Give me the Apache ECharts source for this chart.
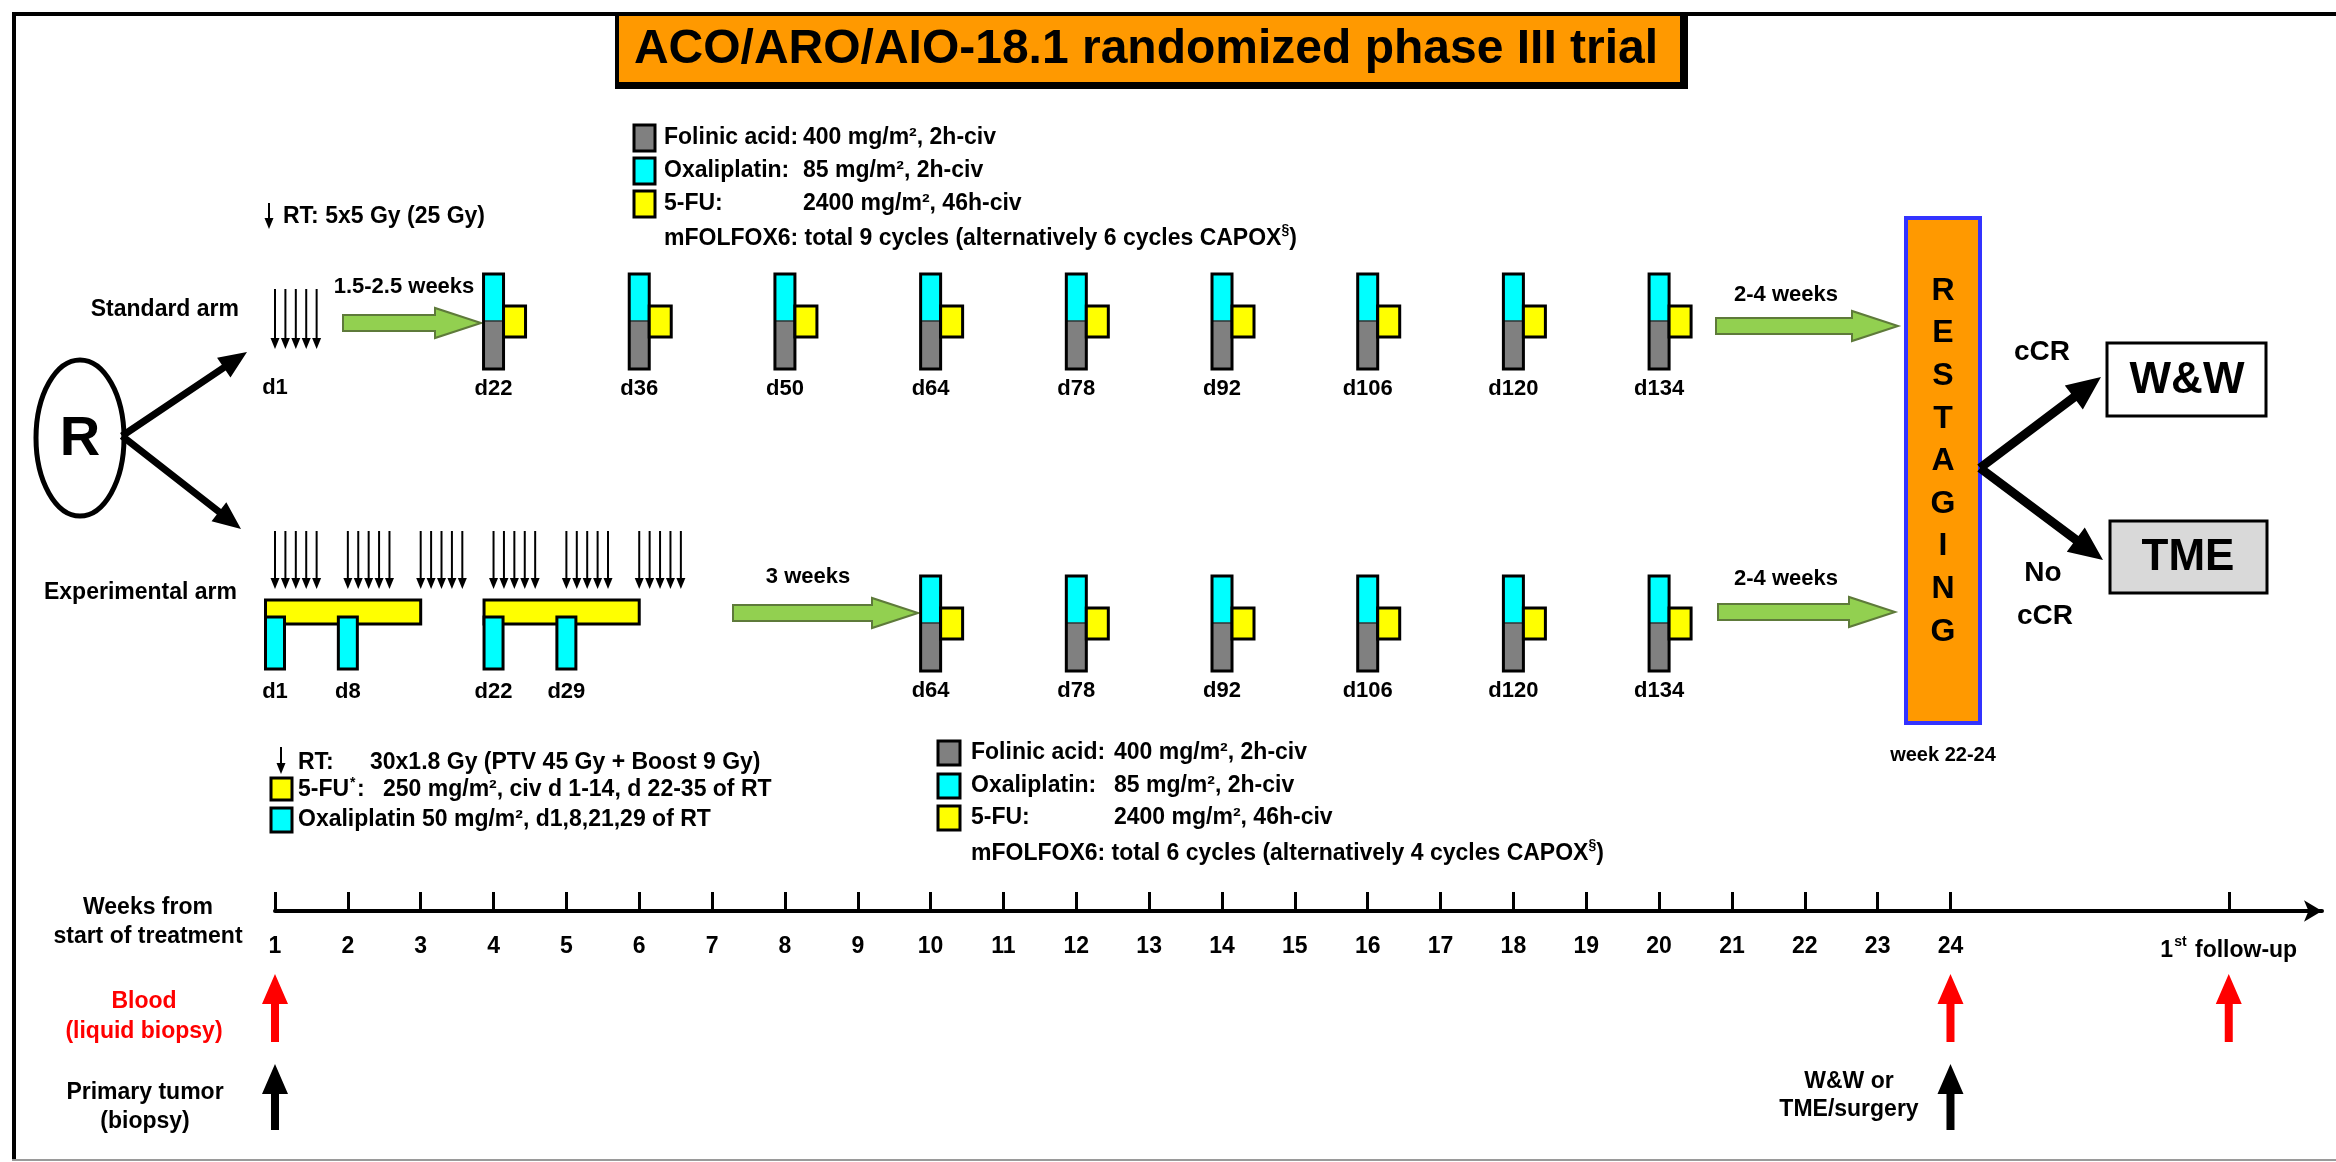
<!DOCTYPE html>
<html><head><meta charset="utf-8">
<script src="https://cdn.jsdelivr.net/npm/echarts@6/dist/echarts.min.js"></script>
<style>html,body{margin:0;padding:0;background:#fff}#c{width:2336px;height:1162px}</style>
</head><body><div id="c"></div>
<script>
// ---------- data ----------
const weekTicks = [1,2,3,4,5,6,7,8,9,10,11,12,13,14,15,16,17,18,19,20,21,22,23,24];
const followUpWeek = 27.82;
const standardRtDays = [1,2,3,4,5];
const standardCycleDays = [22,36,50,64,78,92,106,120,134];
const experimentalRtDays = [1,2,3,4,5,8,9,10,11,12,15,16,17,18,19,22,23,24,25,26,29,30,31,32,33,36,37,38,39,40];
const experimentalOxaliDays = [1,8,22,29];
const experimental5fuStartDays = [1,22];
const experimental5fuEndDays = [14,35];
const experimentalCycleDays = [64,78,92,106,120,134];
const bloodDrawWeeks = [1,24,followUpWeek];
const tissueWeeks = [1,24];

// ---------- styles ----------
const FF = '"Liberation Sans", Arial, Helvetica, sans-serif';
const f = (s, w) => (w || 'bold') + ' ' + s + 'px ' + FF;
const CYAN = '#00FFFF', YELLOW = '#FFFF00', GREY = '#808080', ORANGE = '#FF9900',
      GREEN = '#92D050', GREEN_EDGE = '#5E7A3A', RED = '#FF0000';

const dayToWeek = d => 1 + (d - 1) / 7;

function T(text, x, y, size, opt) {
  opt = opt || {};
  return {type: 'text', z: 10, style: {text, x, y, font: f(size, opt.weight), fill: opt.color || '#000',
    align: opt.align || 'left', verticalAlign: 'middle'}};
}
// rich text with a superscript part: text uses {n|..}{s|..}
function TS(text, x, y, size) {
  return {type: 'text', z: 10, style: {text, x, y, font: f(size), fill: '#000', align: 'left', verticalAlign: 'middle',
    rich: {
      n: {font: f(size), fill: '#000', lineHeight: size + 4, verticalAlign: 'bottom'},
      s: {font: f(Math.round(size * 0.6)), fill: '#000', lineHeight: size + 4, verticalAlign: 'top'}
    }}};
}
function R(x, y, w, h, fill, stroke, lw) {
  return {type: 'rect', shape: {x, y, width: w, height: h},
    style: {fill: fill, stroke: stroke || null, lineWidth: lw || 0}};
}
function arrowPts(x1, y1, x2, y2, sw, hl, hw) {
  const dx = x2 - x1, dy = y2 - y1, L = Math.hypot(dx, dy);
  const ux = dx / L, uy = dy / L, px = -uy, py = ux;
  const bx = x2 - ux * hl, by = y2 - uy * hl;
  return [
    [x1 + px * sw / 2, y1 + py * sw / 2],
    [bx + px * sw / 2, by + py * sw / 2],
    [bx + px * hw / 2, by + py * hw / 2],
    [x2, y2],
    [bx - px * hw / 2, by - py * hw / 2],
    [bx - px * sw / 2, by - py * sw / 2],
    [x1 - px * sw / 2, y1 - py * sw / 2]
  ];
}
function arrow(x1, y1, x2, y2, sw, hl, hw, fill) {
  return {type: 'polygon', shape: {points: arrowPts(x1, y1, x2, y2, sw, hl, hw)}, style: {fill: fill || '#000'}};
}
function greenArrow(x1, x2, yc) {
  const bh = 8, hh = 15, hl = 46;
  return {type: 'polygon', shape: {points: [[x1, yc - bh], [x2 - hl, yc - bh], [x2 - hl, yc - hh], [x2, yc],
    [x2 - hl, yc + hh], [x2 - hl, yc + bh], [x1, yc + bh]]},
    style: {fill: GREEN, stroke: GREEN_EDGE, lineWidth: 2}};
}
function thinArrow(x, top, bottom) {
  return [
    {type: 'line', shape: {x1: x, y1: top, x2: x, y2: bottom - 8}, style: {stroke: '#000', lineWidth: 2}},
    {type: 'polygon', shape: {points: [[x - 4.5, bottom - 11], [x + 4.5, bottom - 11], [x, bottom]]}, style: {fill: '#000'}}
  ];
}

// ---------- renderers ----------
function rtRenderer(top, bottom, firstLabelY) {
  return function (params, api) {
    const x = api.coord([api.value(0), 0])[0];
    const children = thinArrow(x, top, bottom);
    if (firstLabelY && params.dataIndex === 0) {
      children.push({type: 'text', style: {text: 'd' + api.value(1), x: x, y: firstLabelY, font: f(22), fill: '#000', align: 'center', verticalAlign: 'middle'}});
    }
    return {type: 'group', children};
  };
}
function cycleRenderer(top) {
  return function (params, api) {
    const x = api.coord([api.value(0), 0])[0];
    const w = 20, cH = 47, gH = 48;
    return {type: 'group', children: [
      R(x - w / 2, top, w, cH, CYAN),
      R(x - w / 2, top + cH, w, gH, GREY),
      {type: 'line', shape: {x1: x - w / 2, y1: top + cH, x2: x + w / 2, y2: top + cH}, style: {stroke: '#333', lineWidth: 1.5}},
      {type: 'rect', shape: {x: x - w / 2, y: top, width: w, height: cH + gH}, style: {fill: 'none', stroke: '#000', lineWidth: 3}},
      R(x + w / 2, top + 32, 22, 31, YELLOW, '#000', 3),
      {type: 'text', style: {text: 'd' + api.value(1), x: x, y: top + 115, font: f(22), fill: '#000', align: 'center', verticalAlign: 'middle'}}
    ]};
  };
}
function fuRenderer(params, api) {
  const x1 = api.coord([api.value(0), 0])[0];
  const x2 = api.coord([api.value(1), 0])[0];
  return R(x1 - 9.5, 600, x2 - x1 + 9.5, 24, YELLOW, '#000', 3);
}
function oxaliRenderer(params, api) {
  const x = api.coord([api.value(0), 0])[0];
  return {type: 'group', children: [
    R(x - 9.5, 617, 19, 52, CYAN, '#000', 3),
    {type: 'text', style: {text: 'd' + api.value(1), x: x, y: 692, font: f(22), fill: '#000', align: 'center', verticalAlign: 'middle'}}
  ]};
}
function upArrowRenderer(top, bottom, color) {
  return function (params, api) {
    const x = api.coord([api.value(0), 0])[0];
    return arrow(x, bottom, x, top, 8, 30, 26, color);
  };
}

// ---------- static layout ----------
const restLetters = 'RESTAGING'.split('');
const elements = [
  // frame
  R(12, 12, 2324, 4, '#000'),
  R(12, 12, 4, 1148, '#000'),
  R(12, 1159, 2324, 2, '#9a9a9a'),
  // title
  R(615, 14, 1073, 75, '#000'),
  R(619, 16, 1061, 66, ORANGE),
  T('ACO/ARO/AIO-18.1 randomized phase III trial', 1146, 50, 48, {align: 'center'}),
  // legend 1 (standard arm)
  R(634, 125, 21, 26, GREY, '#000', 3),
  R(634, 158, 21, 26, CYAN, '#000', 3),
  R(634, 191, 21, 26, YELLOW, '#000', 3),
  T('Folinic acid:', 664, 138, 23), T('400 mg/m², 2h-civ', 803, 138, 23),
  T('Oxaliplatin:', 664, 171, 23), T('85 mg/m², 2h-civ', 803, 171, 23),
  T('5-FU:', 664, 204, 23), T('2400 mg/m², 46h-civ', 803, 204, 23),
  TS('{n|mFOLFOX6: total 9 cycles (alternatively 6 cycles CAPOX}{s|§}{n|)}', 664, 237, 23),
  ...thinArrow(269, 203, 229),
  T('RT: 5x5 Gy (25 Gy)', 283, 217, 23),
  // arm labels
  T('Standard arm', 239, 310, 23, {align: 'right'}),
  T('Experimental arm', 237, 593, 23, {align: 'right'}),
  // R randomisation
  {type: 'ellipse', shape: {cx: 80, cy: 438, rx: 44, ry: 78}, style: {fill: '#fff', stroke: '#000', lineWidth: 5}},
  T('R', 80, 440, 56, {align: 'center'}),
  arrow(122, 436, 247, 352, 7, 28, 24),
  arrow(122, 436, 241, 529, 7, 28, 24),
  // green arrows
  greenArrow(343, 481, 323), T('1.5-2.5 weeks', 404, 287, 22, {align: 'center'}),
  greenArrow(1716, 1898, 326), T('2-4 weeks', 1786, 295, 22, {align: 'center'}),
  greenArrow(733, 918, 613), T('3 weeks', 808, 577, 22, {align: 'center'}),
  greenArrow(1718, 1895, 612), T('2-4 weeks', 1786, 579, 22, {align: 'center'}),
  // legend 2 (experimental arm)
  R(938, 741, 22, 24, GREY, '#000', 3),
  R(938, 774, 22, 24, CYAN, '#000', 3),
  R(938, 806, 22, 24, YELLOW, '#000', 3),
  T('Folinic acid:', 971, 753, 23), T('400 mg/m², 2h-civ', 1114, 753, 23),
  T('Oxaliplatin:', 971, 786, 23), T('85 mg/m², 2h-civ', 1114, 786, 23),
  T('5-FU:', 971, 818, 23), T('2400 mg/m², 46h-civ', 1114, 818, 23),
  TS('{n|mFOLFOX6: total 6 cycles (alternatively 4 cycles CAPOX}{s|§}{n|)}', 971, 852, 23),
  // legend 3 (experimental CRT)
  ...thinArrow(281, 747, 774),
  T('RT:', 298, 763, 23), T('30x1.8 Gy (PTV 45 Gy + Boost 9 Gy)', 370, 763, 23),
  R(271, 778, 21, 22, YELLOW, '#000', 3),
  T('5-FU', 298, 790, 23), T('*', 350, 783, 14), T(':', 357, 790, 23),
  T('250 mg/m², civ d 1-14, d 22-35 of RT', 383, 790, 23),
  R(271, 808, 21, 24, CYAN, '#000', 3),
  T('Oxaliplatin 50 mg/m², d1,8,21,29 of RT', 298, 820, 23),
  // restaging
  R(1906, 218, 74, 505, ORANGE, '#3333FF', 4),
  ...restLetters.map((c, i) => T(c, 1943, 291 + i * 42.6, 32, {align: 'center'})),
  T('week 22-24', 1943, 755, 20, {align: 'center'}),
  arrow(1980, 468, 2101, 377, 9, 34, 30),
  arrow(1980, 468, 2103, 560, 9, 34, 30),
  R(2107, 343, 159, 73, '#fff', '#000', 3),
  T('W&W', 2187, 381, 44, {align: 'center'}),
  R(2110, 521, 157, 72, '#D9D9D9', '#000', 3),
  T('TME', 2188, 558, 44, {align: 'center'}),
  T('cCR', 2042, 352, 28, {align: 'center'}),
  T('No', 2043, 573, 28, {align: 'center'}),
  T('cCR', 2045, 616, 28, {align: 'center'}),
  // bottom labels
  T('Weeks from', 148, 908, 23, {align: 'center'}),
  T('start of treatment', 148, 937, 23, {align: 'center'}),
  T('Blood', 144, 1002, 23, {align: 'center', color: RED}),
  T('(liquid biopsy)', 144, 1032, 23, {align: 'center', color: RED}),
  T('Primary tumor', 145, 1093, 23, {align: 'center'}),
  T('(biopsy)', 145, 1122, 23, {align: 'center'}),
  T('W&W or', 1849, 1082, 23, {align: 'center'}),
  T('TME/surgery', 1849, 1110, 23, {align: 'center'})
];

const chart = echarts.init(document.getElementById('c'), null, {renderer: 'canvas'});
chart.setOption({
  animation: false,
  backgroundColor: '#fff',
  grid: {left: 275, right: 14, top: 0, bottom: 251},
  xAxis: {
    type: 'value', min: 1, max: 29.1,
    axisLine: {onZero: false, lineStyle: {color: '#000', width: 4}, symbol: ['none', 'arrow'], symbolSize: [16, 18]},
    axisTick: {inside: true, length: 19, customValues: weekTicks.concat([followUpWeek]), lineStyle: {color: '#000', width: 3}},
    axisLabel: {
      customValues: weekTicks.concat([followUpWeek]), margin: 24,
      fontFamily: FF, fontSize: 23, fontWeight: 'bold', color: '#000',
      formatter: v => Math.abs(v - followUpWeek) < 1e-6 ? '{n|1}{s|st}{n| follow-up}' : String(v),
      rich: {
        n: {fontFamily: FF, fontSize: 23, fontWeight: 'bold', color: '#000', lineHeight: 27, verticalAlign: 'bottom'},
        s: {fontFamily: FF, fontSize: 14, fontWeight: 'bold', color: '#000', lineHeight: 27, verticalAlign: 'top', padding: [0, 2, 10, 1]}
      }
    },
    splitLine: {show: false}
  },
  yAxis: {type: 'value', min: 0, max: 911, inverse: true, show: false},
  graphic: {elements},
  series: [
    {type: 'custom', name: 'Standard RT', clip: false, renderItem: rtRenderer(289, 349, 388),
      data: standardRtDays.map(d => [dayToWeek(d), d])},
    {type: 'custom', name: 'Experimental RT', clip: false, renderItem: rtRenderer(531, 589, 0),
      data: experimentalRtDays.map(d => [dayToWeek(d), d])},
    {type: 'custom', name: 'Standard mFOLFOX6', clip: false, renderItem: cycleRenderer(274),
      data: standardCycleDays.map(d => [dayToWeek(d), d])},
    {type: 'custom', name: 'Experimental mFOLFOX6', clip: false, renderItem: cycleRenderer(576),
      data: experimentalCycleDays.map(d => [dayToWeek(d), d])},
    {type: 'custom', name: '5-FU CRT', clip: false, renderItem: fuRenderer,
      data: experimental5fuStartDays.map((s, i) => [dayToWeek(s), dayToWeek(experimental5fuEndDays[i] + 1)])},
    {type: 'custom', name: 'Oxaliplatin CRT', clip: false, renderItem: oxaliRenderer,
      data: experimentalOxaliDays.map(d => [dayToWeek(d), d])},
    {type: 'custom', name: 'Blood', clip: false, renderItem: upArrowRenderer(974, 1042, RED),
      data: bloodDrawWeeks.map(w => [w, 0])},
    {type: 'custom', name: 'Tissue', clip: false, renderItem: upArrowRenderer(1064, 1130, '#000'),
      data: tissueWeeks.map(w => [w, 0])}
  ]
});
</script></body></html>
